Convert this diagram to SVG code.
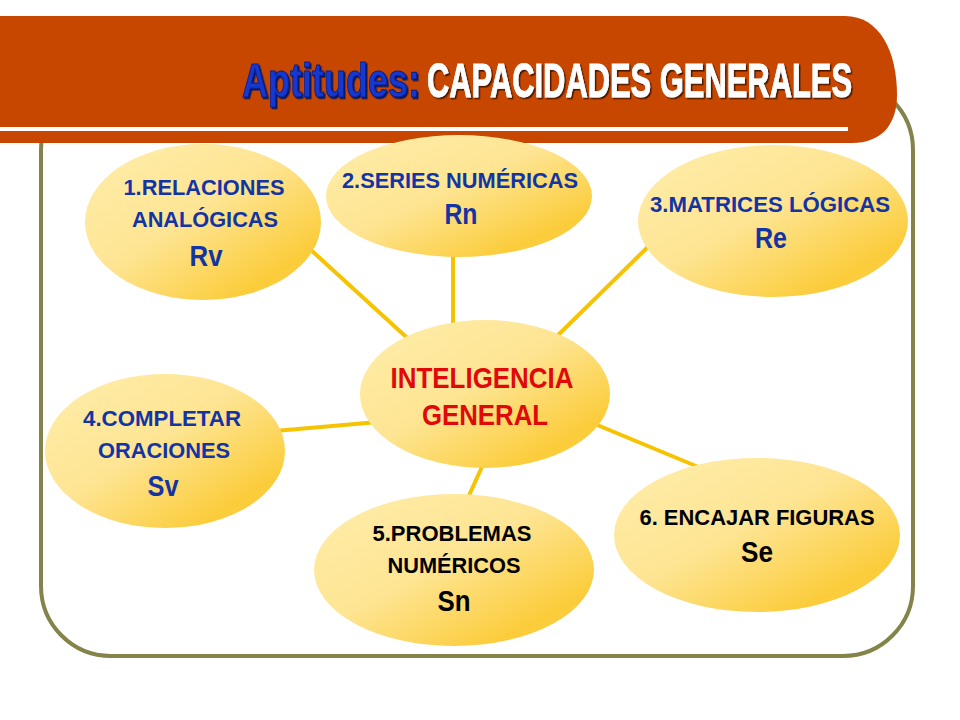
<svg xmlns="http://www.w3.org/2000/svg" width="960" height="720" viewBox="0 0 960 720">
  <defs>
    <linearGradient id="yel" x1="0" y1="0" x2="1" y2="1">
      <stop offset="0" stop-color="#FFEDAA"/>
      <stop offset="0.45" stop-color="#FEE594"/>
      <stop offset="0.82" stop-color="#FBCC3A"/>
      <stop offset="1" stop-color="#FCD352"/>
    </linearGradient>
    <filter id="shB" x="-5%" y="-20%" width="110%" height="150%">
      <feDropShadow dx="1.5" dy="1.2" stdDeviation="0.4" flood-color="#061660"/>
    </filter>
    <filter id="shW" x="-5%" y="-20%" width="110%" height="150%">
      <feDropShadow dx="1.5" dy="1" stdDeviation="0.4" flood-color="#4A1800"/>
    </filter>
    <style>
      .node ellipse { fill: url(#yel); }
      .t { font-family: "Liberation Sans Narrow", "Liberation Sans", Arial, sans-serif; font-weight: bold; text-anchor: middle; }
      .blue { fill: #1234A4; }
      .black { fill: #000000; }
      .red { fill: #E00808; }
      .s { font-size: 22px; }
      .b { font-size: 30px; }
      .c { font-size: 30px; }
      .conn line { stroke: #F7C300; stroke-width: 4; stroke-linecap: butt; }
      .title { font-family: "Liberation Sans", Arial, sans-serif; font-weight: bold; }
    </style>
  </defs>
  <rect width="960" height="720" fill="#FFFFFF"/>

  <!-- frame -->
  <rect id="frame" x="41" y="80" width="872" height="576" rx="70" ry="70" fill="none" stroke="#84844A" stroke-width="4"/>

  <!-- banner -->
  <g id="banner">
    <path d="M0 16 H845 C880 16 897 52 897 95 C897 126 880 143 852 143 H0 Z" fill="#C74600"/>
    <rect x="0" y="127" width="848" height="4" fill="#FFFFFF"/>
    <text class="title" transform="translate(242,97) scale(1,1.36)" x="0" y="0" font-size="36" textLength="178" lengthAdjust="spacingAndGlyphs" fill="#1238D0" stroke="#0A2090" stroke-width="0.8" filter="url(#shB)">Aptitudes:</text>
    <text class="title" transform="translate(427,97) scale(1,1.6)" x="0" y="0" font-size="30.5" textLength="425" lengthAdjust="spacingAndGlyphs" fill="#FFFFFF" stroke="#FFFFFF" stroke-width="0.6" filter="url(#shW)">CAPACIDADES GENERALES</text>
  </g>

  <!-- connectors -->
  <g id="connectors" class="conn">
    <line x1="300" y1="240" x2="415" y2="345"/>
    <line x1="453" y1="250" x2="453" y2="330"/>
    <line x1="660" y1="235" x2="550" y2="343"/>
    <line x1="275" y1="431" x2="378" y2="422"/>
    <line x1="486" y1="458" x2="466" y2="502"/>
    <line x1="590" y1="422" x2="708" y2="471"/>
  </g>

  <g id="node1" class="node">
    <ellipse cx="203" cy="222" rx="118" ry="78"/>
    <text class="t blue s" x="204" y="195" textLength="161" lengthAdjust="spacingAndGlyphs">1.RELACIONES</text>
    <text class="t blue s" x="205" y="227" textLength="146" lengthAdjust="spacingAndGlyphs">ANALÓGICAS</text>
    <text class="t blue b" x="206" y="266" textLength="33" lengthAdjust="spacingAndGlyphs">Rv</text>
  </g>

  <g id="node2" class="node">
    <ellipse cx="459" cy="196" rx="133" ry="61"/>
    <text class="t blue s" x="460" y="188" textLength="236" lengthAdjust="spacingAndGlyphs">2.SERIES NUMÉRICAS</text>
    <text class="t blue b" x="461" y="224" textLength="33" lengthAdjust="spacingAndGlyphs">Rn</text>
  </g>

  <g id="node3" class="node">
    <ellipse cx="773" cy="221" rx="135" ry="76"/>
    <text class="t blue s" x="770" y="212" textLength="240" lengthAdjust="spacingAndGlyphs">3.MATRICES LÓGICAS</text>
    <text class="t blue b" x="771" y="248" textLength="32" lengthAdjust="spacingAndGlyphs">Re</text>
  </g>

  <g id="node4" class="node">
    <ellipse cx="165" cy="451" rx="120" ry="77"/>
    <text class="t blue s" x="162" y="426" textLength="158" lengthAdjust="spacingAndGlyphs">4.COMPLETAR</text>
    <text class="t blue s" x="164" y="458" textLength="132" lengthAdjust="spacingAndGlyphs">ORACIONES</text>
    <text class="t blue b" x="163" y="496" textLength="31" lengthAdjust="spacingAndGlyphs">Sv</text>
  </g>

  <g id="node5" class="node">
    <ellipse cx="454" cy="570" rx="140" ry="76"/>
    <text class="t black s" x="452" y="541" textLength="159" lengthAdjust="spacingAndGlyphs">5.PROBLEMAS</text>
    <text class="t black s" x="454" y="573" textLength="133" lengthAdjust="spacingAndGlyphs">NUMÉRICOS</text>
    <text class="t black b" x="454" y="611" textLength="33" lengthAdjust="spacingAndGlyphs">Sn</text>
  </g>

  <g id="node6" class="node">
    <ellipse cx="757" cy="535" rx="143" ry="77"/>
    <text class="t black s" x="757" y="525" textLength="235" lengthAdjust="spacingAndGlyphs">6. ENCAJAR FIGURAS</text>
    <text class="t black b" x="757" y="562" textLength="32" lengthAdjust="spacingAndGlyphs">Se</text>
  </g>

  <g id="center" class="node">
    <ellipse cx="485" cy="394" rx="125" ry="74"/>
    <text class="t red c" x="482" y="388" textLength="183" lengthAdjust="spacingAndGlyphs">INTELIGENCIA</text>
    <text class="t red c" x="485" y="425" textLength="126" lengthAdjust="spacingAndGlyphs">GENERAL</text>
  </g>
</svg>
